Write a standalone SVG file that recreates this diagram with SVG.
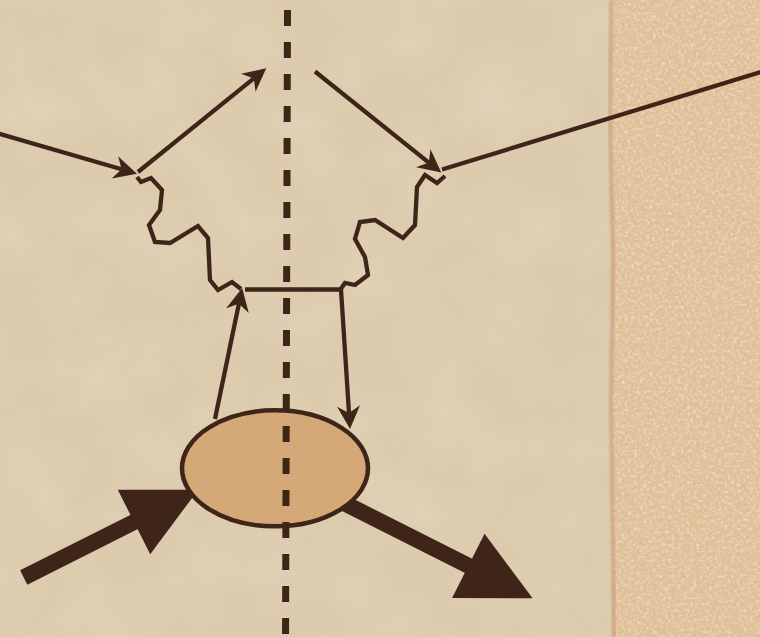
<svg xmlns="http://www.w3.org/2000/svg" width="760" height="637" viewBox="0 0 760 637">
  <style>
    .thin { fill: none; stroke: #3f2419; stroke-width: 4.3; stroke-linejoin: miter; stroke-miterlimit: 6; }
    .thick { fill: none; stroke: #3f2419; stroke-width: 16; }
    .axis { fill: none; stroke: #3f2419; stroke-width: 7; stroke-dasharray: 16 16; }
    .node { fill: #d5a878; stroke: #3f2419; stroke-width: 4.5; }
  </style>
  <defs>
    <marker id="ah" markerUnits="userSpaceOnUse" orient="auto" refX="7" refY="0" markerWidth="30" markerHeight="30" overflow="visible">
      <path d="M0,-11.5 L23,0 L0,11.5 L7,0 Z" fill="#3f2419"/>
    </marker>
    <marker id="bigah" markerUnits="userSpaceOnUse" orient="auto" refX="2" refY="0" markerWidth="80" markerHeight="80" overflow="visible">
      <path d="M0,-36 L72,0 L0,36 Z" fill="#3f2419"/>
    </marker>
    <filter id="grainLight" x="0" y="0" width="100%" height="100%">
      <feTurbulence type="fractalNoise" baseFrequency="0.32" numOctaves="2" seed="7"/>
      <feColorMatrix type="matrix" values="0 0 0 0 0.93  0 0 0 0 0.82  0 0 0 0 0.66  2.2 0 0 0 -1.1"/>
    </filter>
    <filter id="grainDark" x="0" y="0" width="100%" height="100%">
      <feTurbulence type="fractalNoise" baseFrequency="0.28" numOctaves="2" seed="11"/>
      <feColorMatrix type="matrix" values="0 0 0 0 0.82  0 0 0 0 0.6  0 0 0 0 0.44  2.2 0 0 0 -1.05"/>
    </filter>
    <filter id="mottle" x="0" y="0" width="100%" height="100%">
      <feTurbulence type="fractalNoise" baseFrequency="0.015" numOctaves="3" seed="2"/>
      <feColorMatrix type="matrix" values="0 0 0 0 0.9  0 0 0 0 0.84  0 0 0 0 0.72  0.4 0 0 0 -0.16"/>
    </filter>
    <filter id="soft" x="-50%" y="0" width="200%" height="100%">
      <feGaussianBlur stdDeviation="1.8"/>
    </filter>
  </defs>

  <!-- background -->
  <rect x="0" y="0" width="760" height="637" fill="#dccbad"/>
  <rect x="0" y="0" width="612" height="637" filter="url(#mottle)"/>
  <rect x="612" y="0" width="148" height="637" fill="#dfbf97"/>
  <rect x="612" y="0" width="148" height="637" filter="url(#grainLight)"/>
  <rect x="612" y="0" width="148" height="637" filter="url(#grainDark)"/>
  <path d="M611,0 L610,120 L613,260 L611,400 L614,637" fill="none" stroke="#b98561" stroke-width="3" opacity="0.6" filter="url(#soft)"/>

  <!-- connectors -->
  <g id="connectors">
    <line class="thin" x1="-2" y1="133.5" x2="121.6" y2="169.3" marker-end="url(#ah)"/>
    <line class="thin" x1="138" y1="172" x2="253.8" y2="78.4" marker-end="url(#ah)"/>
    <line class="thin" x1="315" y1="71.5" x2="428.8" y2="162.6" marker-end="url(#ah)"/>
    <line class="thin" x1="442" y1="169.5" x2="764" y2="71"/>
    <line class="thin" x1="215" y1="419" x2="238.9" y2="303.7" marker-end="url(#ah)"/>
    <path class="thin" d="M245,289.5 L341,289.5 L349,413" marker-end="url(#ah)"/>
    <path class="thin" d="M137,177 L141,182 L151,178 L162,190 L160,210 L149,225 L155,242 L170,243 L198,226 L208,238 L210,280 L218,290 L232,282 L241,289"/>
    <path class="thin" d="M340,290 L345,283 L355,285 L368,275 L365,257 L355,239 L360,222 L375,220 L403,238 L415,225 L417,187 L425,175 L437,183 L445,176"/>
    <line class="thick" x1="23.7" y1="577.5" x2="135.8" y2="521.1" marker-end="url(#bigah)"/>
    <line class="thick" x1="335" y1="498.5" x2="470.1" y2="566.7" marker-end="url(#bigah)"/>
  </g>

  <!-- node: ellipse -->
  <g id="node-ellipse">
    <ellipse class="node" cx="275" cy="468.3" rx="93" ry="58"/>
  </g>

  <!-- dashed axis -->
  <g id="axis">
    <line class="axis" x1="287.5" y1="10" x2="285.5" y2="650"/>
  </g>
</svg>
